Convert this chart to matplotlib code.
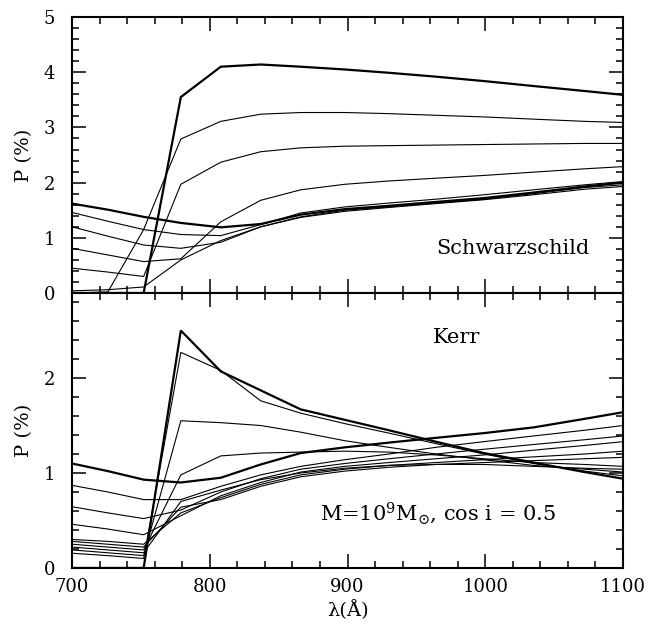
import numpy as np
import matplotlib
matplotlib.use('Agg')
import matplotlib.pyplot as plt
from matplotlib.ticker import MultipleLocator

plt.rcParams['font.family'] = ['DejaVu Serif']
plt.rcParams['mathtext.fontset'] = 'dejavuserif'

# wavelength grid (Angstrom)
wave = [700, 726, 752, 779, 808, 837, 866, 898, 930, 964, 999, 1035, 1072, 1100]

# Schwarzschild case, polarization in %
schw_1 = [1.62, 1.51, 1.38, 1.27, 1.19, 1.25, 1.42, 1.52, 1.58, 1.65, 1.72, 1.82, 1.93, 2.00]
schw_2 = [1.46, 1.30, 1.15, 1.06, 1.04, 1.24, 1.45, 1.56, 1.63, 1.70, 1.78, 1.87, 1.96, 2.02]
schw_3 = [1.20, 1.03, 0.87, 0.81, 0.92, 1.20, 1.38, 1.50, 1.56, 1.63, 1.70, 1.80, 1.91, 1.96]
schw_4 = [0.04, 0.06, 0.11, 0.60, 0.95, 1.20, 1.37, 1.48, 1.55, 1.62, 1.69, 1.78, 1.88, 1.93]
schw_5 = [0.81, 0.69, 0.57, 0.62, 1.29, 1.68, 1.87, 1.97, 2.03, 2.08, 2.13, 2.19, 2.25, 2.29]
schw_6 = [0.45, 0.38, 0.30, 1.97, 2.37, 2.56, 2.63, 2.66, 2.67, 2.68, 2.69, 2.70, 2.71, 2.71]
schw_7 = [0.00, 0.02, 1.15, 2.79, 3.11, 3.24, 3.27, 3.27, 3.25, 3.22, 3.19, 3.15, 3.11, 3.09]
schw_8 = [0.00, 0.00, 0.00, 3.55, 4.10, 4.14, 4.10, 4.05, 3.99, 3.92, 3.84, 3.75, 3.66, 3.59]

# Kerr case, polarization in %
kerr_1 = [1.10, 1.02, 0.93, 0.90, 0.95, 1.09, 1.21, 1.27, 1.32, 1.37, 1.42, 1.48, 1.57, 1.64]
kerr_2 = [0.87, 0.80, 0.72, 0.72, 0.86, 0.98, 1.07, 1.14, 1.20, 1.27, 1.33, 1.39, 1.45, 1.50]
kerr_3 = [0.645, 0.58, 0.52, 0.61, 0.80, 0.94, 1.04, 1.10, 1.15, 1.20, 1.25, 1.30, 1.35, 1.39]
kerr_4 = [0.46, 0.41, 0.35, 0.55, 0.76, 0.90, 1.01, 1.07, 1.11, 1.15, 1.19, 1.24, 1.29, 1.33]
kerr_5 = [0.30, 0.28, 0.25, 0.58, 0.74, 0.88, 0.98, 1.04, 1.08, 1.11, 1.14, 1.17, 1.20, 1.23]
kerr_6 = [0.28, 0.25, 0.22, 0.64, 0.72, 0.86, 0.96, 1.02, 1.06, 1.09, 1.11, 1.13, 1.15, 1.165]
kerr_7 = [0.25, 0.22, 0.19, 0.98, 1.18, 1.21, 1.22, 1.23, 1.22, 1.19, 1.15, 1.11, 1.09, 1.07]
kerr_8 = [0.22, 0.19, 0.16, 0.70, 0.82, 0.93, 1.00, 1.05, 1.08, 1.09, 1.09, 1.07, 1.05, 1.04]
kerr_9 = [0.19, 0.16, 0.13, 1.55, 1.53, 1.50, 1.43, 1.34, 1.27, 1.20, 1.14, 1.08, 1.04, 1.01]
kerr_10 = [0.155, 0.13, 0.10, 2.27, 2.08, 1.76, 1.63, 1.52, 1.42, 1.31, 1.20, 1.10, 1.02, 0.97]
kerr_11 = [0.00, 0.00, 0.00, 2.50, 2.07, 1.87, 1.67, 1.56, 1.45, 1.33, 1.21, 1.11, 1.01, 0.94]

schw_curves = [schw_1, schw_2, schw_3, schw_4, schw_5, schw_6, schw_7, schw_8]
kerr_curves = [kerr_1, kerr_2, kerr_3, kerr_4, kerr_5, kerr_6, kerr_7, kerr_8,
               kerr_9, kerr_10, kerr_11]

fig = plt.figure(figsize=(6.65, 6.26), dpi=100)
ax_top = fig.add_axes([0.1083, 0.5319, 0.8286, 0.4409])
ax_bot = fig.add_axes([0.1083, 0.0927, 0.8286, 0.4392])


def draw_family(ax, curves):
    # first and last member of each family drawn heavier
    for i, c in enumerate(curves):
        lw = 1.6 if i in (0, len(curves) - 1) else 0.8
        ax.plot(wave, c, color='black', lw=lw, solid_joinstyle='miter')


def style_axis(ax):
    ax.set_xlim(700, 1100)
    ax.xaxis.set_major_locator(MultipleLocator(100))
    ax.xaxis.set_minor_locator(MultipleLocator(20))
    ax.yaxis.set_major_locator(MultipleLocator(1))
    ax.yaxis.set_minor_locator(MultipleLocator(0.2))
    ax.tick_params(which='both', direction='in', top=True, right=True,
                   width=1.1, labelsize=13)
    ax.tick_params(which='major', length=10)
    ax.tick_params(which='minor', length=5)
    ax.tick_params(axis='y', pad=12)
    ax.tick_params(axis='x', pad=7)
    for sp in ax.spines.values():
        sp.set_linewidth(1.5)
    ax.set_ylabel('P (%)', fontsize=14, labelpad=8)


draw_family(ax_top, schw_curves)
style_axis(ax_top)
ax_top.set_ylim(0, 5)
ax_top.tick_params(axis='x', labelbottom=False)
ax_top.text(1076, 0.815, 'Schwarzschild', fontsize=15, ha='right', va='center')

draw_family(ax_bot, kerr_curves)
style_axis(ax_bot)
ax_bot.set_ylim(0, 2.895)
ax_bot.text(979, 2.43, 'Kerr', fontsize=15, ha='center', va='center')
ax_bot.text(880, 0.58, r'M=10$^{9}$M$_{\odot}$, cos i = 0.5', fontsize=15,
            ha='left', va='center')
ax_bot.set_xlabel('λ(Å)', fontsize=14, labelpad=3)

fig.savefig('out.png', dpi=100)
